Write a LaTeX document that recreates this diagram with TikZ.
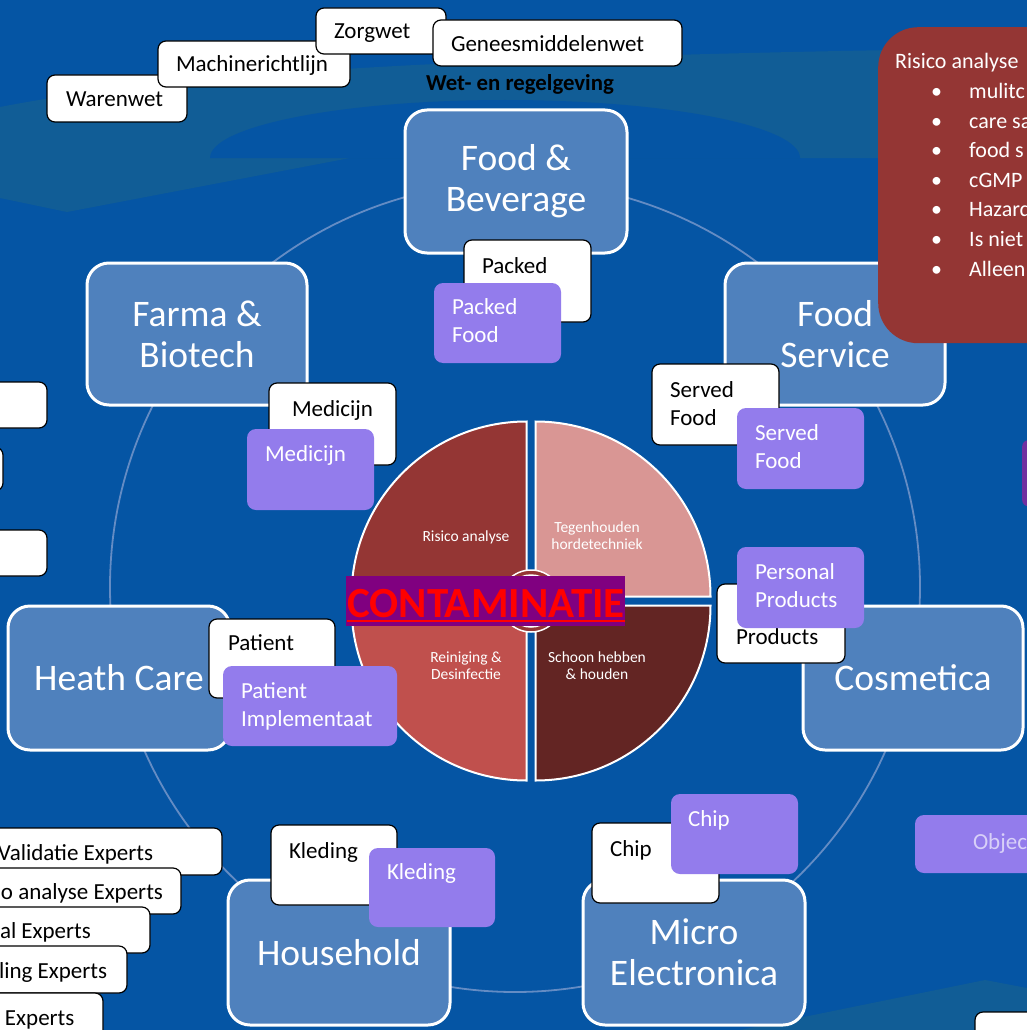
\documentclass[tikz,border=0pt]{standalone}
\usepackage{fontspec}
\setmainfont{Carlito}
\definecolor{bgblue}{RGB}{5,85,164}
\definecolor{swoosh}{RGB}{17,93,150}
\definecolor{ringline}{RGB}{100,140,196}
\definecolor{catblue}{RGB}{79,129,189}
\definecolor{lav}{RGB}{147,124,236}
\definecolor{darkpurple}{RGB}{112,48,160}
\definecolor{redbox}{RGB}{148,54,52}
\definecolor{qtl}{RGB}{148,54,52}
\definecolor{qtr}{RGB}{217,150,148}
\definecolor{qbr}{RGB}{99,37,35}
\definecolor{qbl}{RGB}{192,80,77}
\definecolor{contpurple}{RGB}{128,0,128}
\definecolor{objtext}{RGB}{216,208,248}
\tikzset{
  catbox/.style={draw=white, line width=3pt, fill=catblue, rounded corners=22pt,
    text=white, font=\fontsize{37.5}{41}\selectfont, align=center,
    inner sep=0pt, outer sep=0pt, anchor=north west},
  wbox/.style={draw=black, line width=1.2pt, fill=white, rounded corners=8pt,
    inner sep=0pt, outer sep=0pt, anchor=north west},
  pbox/.style={fill=lav, rounded corners=9pt, inner sep=0pt, outer sep=0pt, anchor=north west},
  lbl/.style={anchor=base west, inner sep=0pt, outer sep=0pt, font=\fontsize{23}{28.5}\selectfont},
  plbl/.style={lbl, text=white},
  qlbl/.style={text=white, align=center, inner sep=0pt, font=\fontsize{15.5}{17}\selectfont},
  sector/.style={draw=white, line width=2pt}
}
\begin{document}
\begin{tikzpicture}[x=1pt,y=-1pt]
\useasboundingbox (0,0) rectangle (1027,1030);
\clip (0,0) rectangle (1027,1030);
% background
\fill[bgblue] (0,0) rectangle (1027,1030);
\fill[swoosh] (0,107) .. controls (150,78) and (400,56) .. (1027,48) -- (1027,158) -- (350,158) -- (67,212) -- (0,198) -- cycle;
\fill[bgblue] (210,158) arc[start angle=180, end angle=360, x radius=295, y radius=58] -- cycle;
\fill[swoosh] (740,1030) -- (985,980) -- (1027,988) -- (1027,1030) -- cycle;
% faint ring
\draw[ringline, line width=1.8pt] (515,587) circle[radius=405];
% category boxes
\node[catbox, minimum width=222, minimum height=143] (fb) at (405,110) {Food \&\\Beverage};
\node[catbox, minimum width=220, minimum height=142] (farma) at (87,263) {Farma \&\\Biotech};
\node[catbox, minimum width=220, minimum height=142] (fserv) at (725,263) {Food\\Service};
\node[catbox, minimum width=222, minimum height=144] (hc) at (8,606) {Heath Care};
\node[catbox, minimum width=220, minimum height=144] (cos) at (803,606) {Cosmetica};
\node[catbox, minimum width=222, minimum height=145] (hh) at (228,880) {Household};
\node[catbox, minimum width=222, minimum height=145] (me) at (583,880) {Micro\\Electronica};
% pie
\fill[qtl, sector] (526.5,596.5) -- +(180:175) arc[start angle=180, end angle=270, radius=175] -- cycle;
\fill[qtr, sector] (535.5,596.5) -- +(270:175) arc[start angle=270, end angle=360, radius=175] -- cycle;
\fill[qbr, sector] (535.5,605.5) -- +(0:175) arc[start angle=0, end angle=90, radius=175] -- cycle;
\fill[qbl, sector] (526.5,605.5) -- +(90:175) arc[start angle=90, end angle=180, radius=175] -- cycle;
\draw[white, line width=1.5pt, fill=qtl, even odd rule] (531,601) circle[radius=31] (531,601) circle[radius=26];
\node[qlbl] (q1) at (466,537) {Risico analyse};
\node[qlbl] (q2) at (597,536) {Tegenhouden\\hordetechniek};
\node[qlbl] (q3) at (466,666) {Reiniging \&\\Desinfectie};
\node[qlbl] (q4) at (597,666) {Schoon hebben\\\& houden};
% labels around
\node[wbox, minimum width=127, minimum height=82] (packW) at (464,240) {};
\node[lbl] (packWt) at (482,273) {Packed};
\node[pbox, minimum width=127, minimum height=80] (packP) at (434,283) {};
\node[plbl] (packPt) at (452,314) {\begin{tabular}[t]{@{}l@{}}Packed\\Food\end{tabular}};
\node[wbox, minimum width=127, minimum height=82] (medW) at (269,383) {};
\node[lbl] (medWt) at (292,416) {Medicijn};
\node[pbox, minimum width=127, minimum height=81] (medP) at (247,429) {};
\node[plbl] (medPt) at (265,461) {Medicijn};
\node[wbox, minimum width=127, minimum height=81] (servW) at (652,364) {};
\node[lbl] (servWt) at (670,397) {\begin{tabular}[t]{@{}l@{}}Served\\Food\end{tabular}};
\node[pbox, minimum width=127, minimum height=81] (servP) at (737,408) {};
\node[plbl] (servPt) at (755,440) {\begin{tabular}[t]{@{}l@{}}Served\\Food\end{tabular}};
\node[wbox, minimum width=128, minimum height=79] (prodW) at (717,584) {};
\node[lbl] (prodWt) at (736,644) {Products};
\node[pbox, minimum width=127, minimum height=81] (prodP) at (737,547) {};
\node[plbl] (prodPt) at (755,579) {\begin{tabular}[t]{@{}l@{}}Personal\\Products\end{tabular}};
\node[wbox, minimum width=126, minimum height=79] (patW) at (209,619) {};
\node[lbl] (patWt) at (228,650) {Patient};
\node[pbox, minimum width=174, minimum height=80] (patP) at (223,666) {};
\node[plbl] (patPt) at (241,698) {\begin{tabular}[t]{@{}l@{}}Patient\\Implementaat\end{tabular}};
\node[wbox, minimum width=126, minimum height=80] (kleW) at (271,825) {};
\node[lbl] (kleWt) at (289,858) {Kleding};
\node[pbox, minimum width=126, minimum height=79] (kleP) at (369,848) {};
\node[plbl] (klePt) at (387,879) {Kleding};
\node[wbox, minimum width=127, minimum height=80] (chipW) at (592,823) {};
\node[lbl] (chipWt) at (610,856) {Chip};
\node[pbox, minimum width=127, minimum height=80] (chipP) at (671,794) {};
\node[plbl] (chipPt) at (688,826) {Chip};
\node[pbox, minimum width=140, minimum height=58] (objP) at (915,815) {};
\node[lbl, text=objtext] (objPt) at (973,849) {Objec};
\node[fill=darkpurple, rounded corners=6pt, minimum width=30, minimum height=66, anchor=north west, inner sep=0pt] (dp) at (1022,440) {};
% laws
\node[wbox, minimum width=140, minimum height=47] (waren) at (47,75) {};
\node[lbl] (warent) at (66,107) {Warenwet};
\node[wbox, minimum width=192, minimum height=46] (mach) at (158,41) {};
\node[lbl] (macht) at (176,72) {Machinerichtlijn};
\node[wbox, minimum width=130, minimum height=46] (zorg) at (316,8) {};
\node[lbl] (zorgt) at (334,39) {Zorgwet};
\node[wbox, minimum width=249, minimum height=46] (genees) at (433,20) {};
\node[lbl] (geneest) at (451,52) {Geneesmiddelenwet};
\node[font=\bfseries\fontsize{22.8}{26}\selectfont, inner sep=0pt] (wet) at (520,84) {Wet- en regelgeving};
% red box
\node[fill=redbox, rounded corners=40pt, minimum width=200, minimum height=316, anchor=north west, inner sep=0pt] (rbox) at (878,27) {};
\node[anchor=base west, inner sep=0pt, text=white, font=\fontsize{22}{29.6}\selectfont] (rtext) at (895,69) {\begin{tabular}[t]{@{}l@{}}Risico analyse\\
\hspace*{36pt}\makebox[38pt][l]{\textbullet}mulitc\\
\hspace*{36pt}\makebox[38pt][l]{\textbullet}care sa\\
\hspace*{36pt}\makebox[38pt][l]{\textbullet}food s\\
\hspace*{36pt}\makebox[38pt][l]{\textbullet}cGMP\\
\hspace*{36pt}\makebox[38pt][l]{\textbullet}Hazard\\
\hspace*{36pt}\makebox[38pt][l]{\textbullet}Is niet\\
\hspace*{36pt}\makebox[38pt][l]{\textbullet}Alleen\end{tabular}};
% left edge boxes
\node[wbox, minimum width=67, minimum height=46] (l1) at (-20,382) {};
\node[wbox, minimum width=23, minimum height=44] (l2) at (-20,447) {};
\node[wbox, minimum width=67, minimum height=46] (l3) at (-20,530) {};
% experts
\node[wbox, minimum width=242, minimum height=47] (e1) at (-20,828) {};
\node[lbl] (e1t) at (-2,860) {Validatie Experts};
\node[wbox, minimum width=201, minimum height=46] (e2) at (-20,868) {};
\node[lbl] (e2t) at (1,899) {o analyse Experts};
\node[wbox, minimum width=170, minimum height=46] (e3) at (-20,907) {};
\node[lbl] (e3t) at (0,938) {al Experts};
\node[wbox, minimum width=147, minimum height=47] (e4) at (-20,946) {};
\node[lbl] (e4t) at (-1,978) {ling Experts};
\node[wbox, minimum width=123, minimum height=60] (e5) at (-20,993) {};
\node[lbl] (e5t) at (5,1025) {Experts};
\node[wbox, minimum width=80, minimum height=40] (br) at (975,1012) {};
% contamination label
\node[fill=contpurple, minimum width=279, minimum height=50, anchor=north west, inner sep=0pt] (contbox) at (346,576) {};
\node[text=red, font=\bfseries\fontsize{43}{43}\selectfont, anchor=base, inner sep=0pt] (cont) at (486,617) {CONTAMINATIE};
\draw[red, line width=2.5pt] ([yshift=-4pt]cont.base west) -- ([yshift=-4pt]cont.base east);
\end{tikzpicture}
\end{document}
